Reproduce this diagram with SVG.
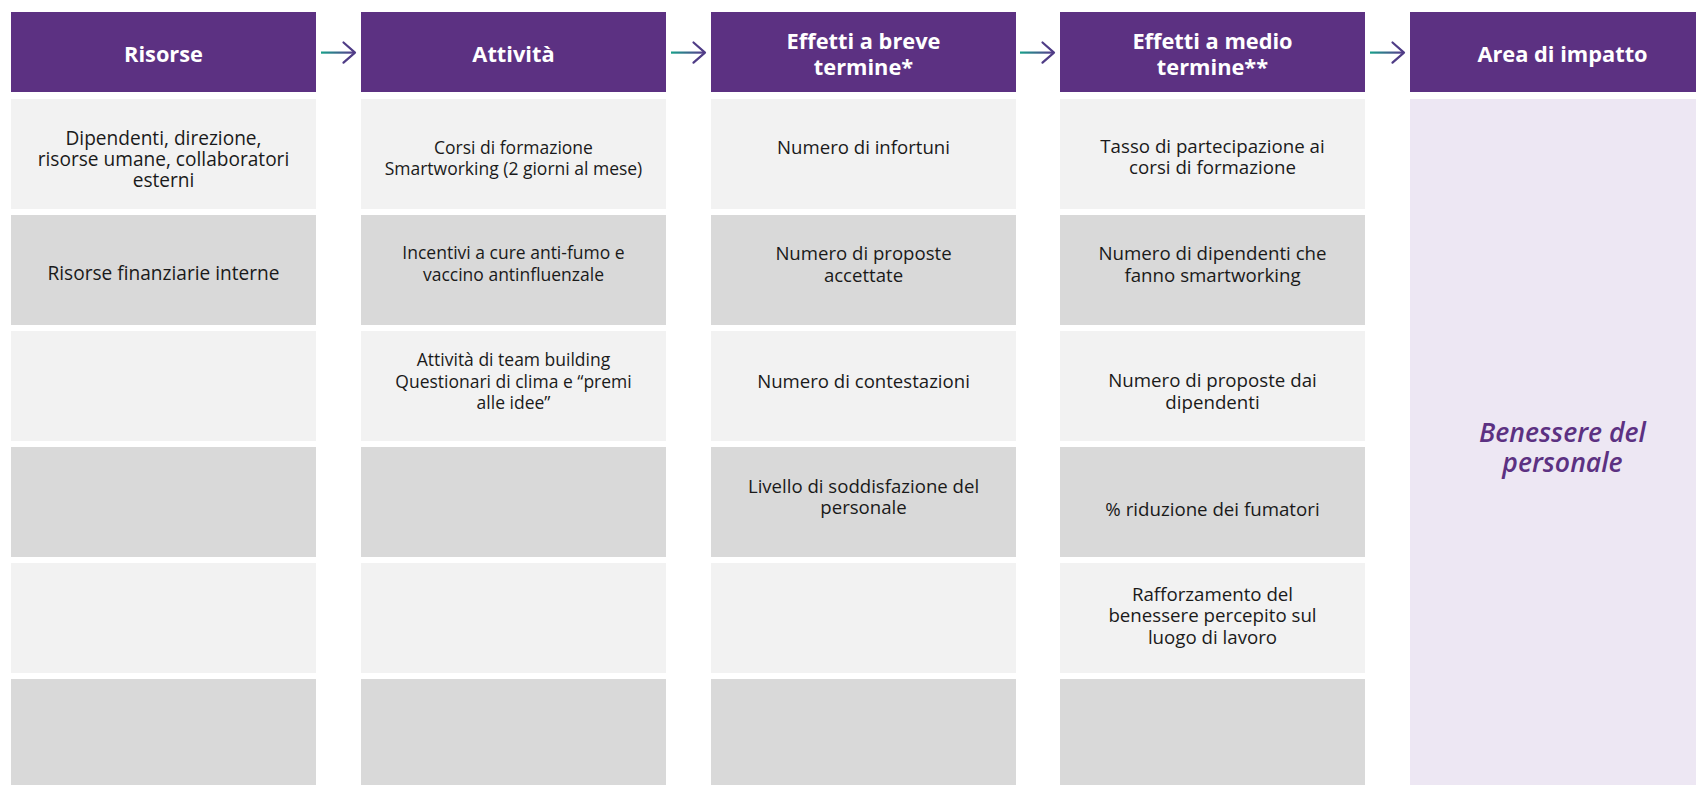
<svg xmlns="http://www.w3.org/2000/svg" width="1696" height="785" viewBox="0 0 1696 785">
<style>
.hd{fill:#5C3182}
.lt{fill:#F2F2F2}
.dk{fill:#D9D9D9}
.im{fill:#EDE7F3}
.ht{font-family:"Open Sans","Liberation Sans",sans-serif;font-weight:700;font-size:21.8px;fill:#FFFFFF;text-anchor:middle}
.bt{font-family:"Open Sans","Liberation Sans",sans-serif;font-size:18px;fill:#1A1A1A;text-anchor:middle}
.c1 .bt{font-size:19.1px}
.c2 .bt{font-size:17.5px}
.c3 .bt{font-size:18.6px}
.c4 .bt{font-size:18.7px}
.it{font-family:"Open Sans","Liberation Sans",sans-serif;font-weight:600;font-style:italic;font-size:26.6px;fill:#5C3182;text-anchor:middle}
.ah{fill:none;stroke:#4F3C86;stroke-width:2.2;stroke-linecap:round;stroke-linejoin:round}
</style>
<defs>
<linearGradient id="g" x1="0" y1="0" x2="1" y2="0">
<stop offset="0" stop-color="#17A08A"/>
<stop offset="1" stop-color="#5A3A8E"/>
</linearGradient>
</defs>
<rect width="1696" height="785" fill="#FFFFFF"/>

<g id="col-risorse" class="c1">
<rect class="hd" x="11" y="12" width="305" height="80"/>
<text class="ht" x="163.5" y="62">Risorse</text>
<rect class="lt" x="11" y="99" width="305" height="110"/>
<text class="bt" x="163.5" y="145">Dipendenti, direzione,</text>
<text class="bt" x="163.5" y="166">risorse umane, collaboratori</text>
<text class="bt" x="163.5" y="187">esterni</text>
<rect class="dk" x="11" y="215" width="305" height="110"/>
<text class="bt" x="163.5" y="280">Risorse finanziarie interne</text>
<rect class="lt" x="11" y="331" width="305" height="110"/>
<rect class="dk" x="11" y="447" width="305" height="110"/>
<rect class="lt" x="11" y="563" width="305" height="110"/>
<rect class="dk" x="11" y="679" width="305" height="110"/>
</g>

<g id="col-attivita" class="c2">
<rect class="hd" x="361" y="12" width="305" height="80"/>
<text class="ht" x="513.5" y="62">Attività</text>
<rect class="lt" x="361" y="99" width="305" height="110"/>
<text class="bt" x="513.5" y="154">Corsi di formazione</text>
<text class="bt" x="513.5" y="175">Smartworking (2 giorni al mese)</text>
<rect class="dk" x="361" y="215" width="305" height="110"/>
<text class="bt" x="513.5" y="259">Incentivi a cure anti-fumo e</text>
<text class="bt" x="513.5" y="281">vaccino antinfluenzale</text>
<rect class="lt" x="361" y="331" width="305" height="110"/>
<text class="bt" x="513.5" y="366">Attività di team building</text>
<text class="bt" x="513.5" y="387.5">Questionari di clima e “premi</text>
<text class="bt" x="513.5" y="409">alle idee”</text>
<rect class="dk" x="361" y="447" width="305" height="110"/>
<rect class="lt" x="361" y="563" width="305" height="110"/>
<rect class="dk" x="361" y="679" width="305" height="110"/>
</g>

<g id="col-breve" class="c3">
<rect class="hd" x="711" y="12" width="305" height="80"/>
<text class="ht" x="863.5" y="49">Effetti a breve</text>
<text class="ht" x="863.5" y="75">termine*</text>
<rect class="lt" x="711" y="99" width="305" height="110"/>
<text class="bt" x="863.5" y="154">Numero di infortuni</text>
<rect class="dk" x="711" y="215" width="305" height="110"/>
<text class="bt" x="863.5" y="260">Numero di proposte</text>
<text class="bt" x="863.5" y="282">accettate</text>
<rect class="lt" x="711" y="331" width="305" height="110"/>
<text class="bt" x="863.5" y="388">Numero di contestazioni</text>
<rect class="dk" x="711" y="447" width="305" height="110"/>
<text class="bt" x="863.5" y="493">Livello di soddisfazione del</text>
<text class="bt" x="863.5" y="514">personale</text>
<rect class="lt" x="711" y="563" width="305" height="110"/>
<rect class="dk" x="711" y="679" width="305" height="110"/>
</g>

<g id="col-medio" class="c4">
<rect class="hd" x="1060" y="12" width="305" height="80"/>
<text class="ht" x="1212.5" y="49">Effetti a medio</text>
<text class="ht" x="1212.5" y="75">termine**</text>
<rect class="lt" x="1060" y="99" width="305" height="110"/>
<text class="bt" x="1212.5" y="153">Tasso di partecipazione ai</text>
<text class="bt" x="1212.5" y="174">corsi di formazione</text>
<rect class="dk" x="1060" y="215" width="305" height="110"/>
<text class="bt" x="1212.5" y="259.5">Numero di dipendenti che</text>
<text class="bt" x="1212.5" y="281.5">fanno smartworking</text>
<rect class="lt" x="1060" y="331" width="305" height="110"/>
<text class="bt" x="1212.5" y="387">Numero di proposte dai</text>
<text class="bt" x="1212.5" y="409">dipendenti</text>
<rect class="dk" x="1060" y="447" width="305" height="110"/>
<text class="bt" x="1212.5" y="515.5">% riduzione dei fumatori</text>
<rect class="lt" x="1060" y="563" width="305" height="110"/>
<text class="bt" x="1212.5" y="600.5">Rafforzamento del</text>
<text class="bt" x="1212.5" y="622">benessere percepito sul</text>
<text class="bt" x="1212.5" y="643.5">luogo di lavoro</text>
<rect class="dk" x="1060" y="679" width="305" height="110"/>
</g>

<g id="col-impatto">
<rect class="hd" x="1410" y="12" width="305" height="80"/>
<text class="ht" x="1562.5" y="62">Area di impatto</text>
<rect class="im" x="1410" y="99" width="305" height="690"/>
<text class="it" x="1562.5" y="441.5">Benessere del</text>
<text class="it" x="1562.5" y="471.5">personale</text>
</g>

<g id="connectors">
<rect x="321" y="51.5" width="33" height="2.2" fill="url(#g)"/>
<polyline class="ah" points="343.5,42.5 355,52.6 343.5,62.7"/>
<rect x="671" y="51.5" width="33" height="2.2" fill="url(#g)"/>
<polyline class="ah" points="693.5,42.5 705,52.6 693.5,62.7"/>
<rect x="1020" y="51.5" width="33" height="2.2" fill="url(#g)"/>
<polyline class="ah" points="1042.5,42.5 1054,52.6 1042.5,62.7"/>
<rect x="1370" y="51.5" width="33" height="2.2" fill="url(#g)"/>
<polyline class="ah" points="1392.5,42.5 1404,52.6 1392.5,62.7"/>
</g>
</svg>
